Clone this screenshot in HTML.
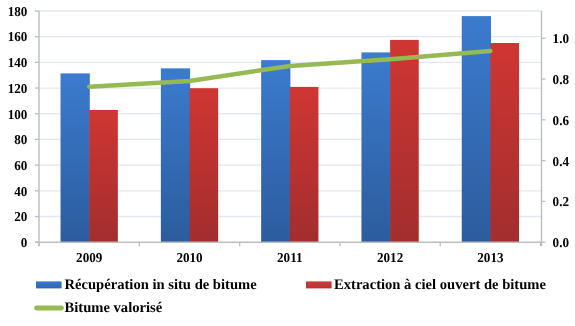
<!DOCTYPE html>
<html><head><meta charset="utf-8"><style>
html,body{margin:0;padding:0;background:#fff;}
svg{display:block;will-change:transform;}
.t{font-family:"Liberation Serif",serif;font-weight:bold;font-size:13.6px;text-rendering:geometricPrecision;fill:#000;}
.l{font-family:"Liberation Serif",serif;font-weight:bold;font-size:14.6px;text-rendering:geometricPrecision;fill:#000;}
</style></head><body>
<svg width="575" height="326" viewBox="0 0 575 326">
<defs>
<linearGradient id="gb" x1="0" y1="0" x2="0" y2="1"><stop offset="0" stop-color="#3B7BCE"/><stop offset="1" stop-color="#2C5C9E"/></linearGradient>
<linearGradient id="gr" x1="0" y1="0" x2="0" y2="1"><stop offset="0" stop-color="#CF3633"/><stop offset="1" stop-color="#A22E2E"/></linearGradient>
<linearGradient id="lb" x1="0" y1="0" x2="0" y2="1"><stop offset="0" stop-color="#3A78CC"/><stop offset="1" stop-color="#2E66B0"/></linearGradient>
<linearGradient id="lr" x1="0" y1="0" x2="0" y2="1"><stop offset="0" stop-color="#CC3A36"/><stop offset="1" stop-color="#B83434"/></linearGradient>
</defs>
<rect width="575" height="326" fill="#fff"/>
<line x1="39.0" x2="541.5" y1="11.00" y2="11.00" stroke="#E3E7F1" stroke-width="1.3"/>
<line x1="39.0" x2="541.5" y1="36.69" y2="36.69" stroke="#E3E7F1" stroke-width="1.3"/>
<line x1="39.0" x2="541.5" y1="62.38" y2="62.38" stroke="#E3E7F1" stroke-width="1.3"/>
<line x1="39.0" x2="541.5" y1="88.07" y2="88.07" stroke="#E3E7F1" stroke-width="1.3"/>
<line x1="39.0" x2="541.5" y1="113.76" y2="113.76" stroke="#E3E7F1" stroke-width="1.3"/>
<line x1="39.0" x2="541.5" y1="139.44" y2="139.44" stroke="#E3E7F1" stroke-width="1.3"/>
<line x1="39.0" x2="541.5" y1="165.13" y2="165.13" stroke="#E3E7F1" stroke-width="1.3"/>
<line x1="39.0" x2="541.5" y1="190.82" y2="190.82" stroke="#E3E7F1" stroke-width="1.3"/>
<line x1="39.0" x2="541.5" y1="216.51" y2="216.51" stroke="#E3E7F1" stroke-width="1.3"/>
<rect x="60.55" y="73.4" width="29.25" height="168.80" fill="url(#gb)"/>
<rect x="89.20" y="110" width="28.65" height="132.20" fill="url(#gr)"/>
<rect x="160.85" y="68.35" width="29.25" height="173.85" fill="url(#gb)"/>
<rect x="189.50" y="88.2" width="28.65" height="154.00" fill="url(#gr)"/>
<rect x="261.15" y="60.1" width="29.25" height="182.10" fill="url(#gb)"/>
<rect x="289.80" y="86.9" width="28.65" height="155.30" fill="url(#gr)"/>
<rect x="361.45" y="52.4" width="29.25" height="189.80" fill="url(#gb)"/>
<rect x="390.10" y="39.9" width="28.65" height="202.30" fill="url(#gr)"/>
<rect x="461.75" y="16.1" width="29.25" height="226.10" fill="url(#gb)"/>
<rect x="490.40" y="43" width="28.65" height="199.20" fill="url(#gr)"/>
<line x1="39.0" x2="39.0" y1="11.0" y2="246.2" stroke="#BDBDBD" stroke-width="1.4"/>
<line x1="541.5" x2="541.5" y1="11.0" y2="246.2" stroke="#BDBDBD" stroke-width="1.4"/>
<line x1="35.0" x2="541.5" y1="242.2" y2="242.2" stroke="#BDBDBD" stroke-width="1.4"/>
<line x1="35.0" x2="39.0" y1="11.00" y2="11.00" stroke="#BDBDBD" stroke-width="1.3"/>
<text transform="translate(27.4,15.80) scale(0.965,1)" text-anchor="end" class="t">180</text>
<line x1="35.0" x2="39.0" y1="36.69" y2="36.69" stroke="#BDBDBD" stroke-width="1.3"/>
<text transform="translate(27.4,41.49) scale(0.965,1)" text-anchor="end" class="t">160</text>
<line x1="35.0" x2="39.0" y1="62.38" y2="62.38" stroke="#BDBDBD" stroke-width="1.3"/>
<text transform="translate(27.4,67.18) scale(0.965,1)" text-anchor="end" class="t">140</text>
<line x1="35.0" x2="39.0" y1="88.07" y2="88.07" stroke="#BDBDBD" stroke-width="1.3"/>
<text transform="translate(27.4,92.87) scale(0.965,1)" text-anchor="end" class="t">120</text>
<line x1="35.0" x2="39.0" y1="113.76" y2="113.76" stroke="#BDBDBD" stroke-width="1.3"/>
<text transform="translate(27.4,118.56) scale(0.965,1)" text-anchor="end" class="t">100</text>
<line x1="35.0" x2="39.0" y1="139.44" y2="139.44" stroke="#BDBDBD" stroke-width="1.3"/>
<text transform="translate(27.4,144.24) scale(0.965,1)" text-anchor="end" class="t">80</text>
<line x1="35.0" x2="39.0" y1="165.13" y2="165.13" stroke="#BDBDBD" stroke-width="1.3"/>
<text transform="translate(27.4,169.93) scale(0.965,1)" text-anchor="end" class="t">60</text>
<line x1="35.0" x2="39.0" y1="190.82" y2="190.82" stroke="#BDBDBD" stroke-width="1.3"/>
<text transform="translate(27.4,195.62) scale(0.965,1)" text-anchor="end" class="t">40</text>
<line x1="35.0" x2="39.0" y1="216.51" y2="216.51" stroke="#BDBDBD" stroke-width="1.3"/>
<text transform="translate(27.4,221.31) scale(0.965,1)" text-anchor="end" class="t">20</text>
<line x1="35.0" x2="39.0" y1="242.20" y2="242.20" stroke="#BDBDBD" stroke-width="1.3"/>
<text transform="translate(27.4,247.00) scale(0.965,1)" text-anchor="end" class="t">0</text>
<line x1="39.05" x2="39.05" y1="242.2" y2="246.2" stroke="#BDBDBD" stroke-width="1.3"/>
<line x1="139.35" x2="139.35" y1="242.2" y2="246.2" stroke="#BDBDBD" stroke-width="1.3"/>
<line x1="239.65" x2="239.65" y1="242.2" y2="246.2" stroke="#BDBDBD" stroke-width="1.3"/>
<line x1="339.95" x2="339.95" y1="242.2" y2="246.2" stroke="#BDBDBD" stroke-width="1.3"/>
<line x1="440.25" x2="440.25" y1="242.2" y2="246.2" stroke="#BDBDBD" stroke-width="1.3"/>
<line x1="540.55" x2="540.55" y1="242.2" y2="246.2" stroke="#BDBDBD" stroke-width="1.3"/>
<line x1="541.5" x2="545.5" y1="242.20" y2="242.20" stroke="#BDBDBD" stroke-width="1.3"/>
<text transform="translate(552.6,247.20) scale(0.965,1)" class="t">0.0</text>
<line x1="541.5" x2="545.5" y1="201.42" y2="201.42" stroke="#BDBDBD" stroke-width="1.3"/>
<text transform="translate(552.6,206.42) scale(0.965,1)" class="t">0.2</text>
<line x1="541.5" x2="545.5" y1="160.64" y2="160.64" stroke="#BDBDBD" stroke-width="1.3"/>
<text transform="translate(552.6,165.64) scale(0.965,1)" class="t">0.4</text>
<line x1="541.5" x2="545.5" y1="119.86" y2="119.86" stroke="#BDBDBD" stroke-width="1.3"/>
<text transform="translate(552.6,124.86) scale(0.965,1)" class="t">0.6</text>
<line x1="541.5" x2="545.5" y1="79.08" y2="79.08" stroke="#BDBDBD" stroke-width="1.3"/>
<text transform="translate(552.6,84.08) scale(0.965,1)" class="t">0.8</text>
<line x1="541.5" x2="545.5" y1="38.30" y2="38.30" stroke="#BDBDBD" stroke-width="1.3"/>
<text transform="translate(552.6,43.30) scale(0.965,1)" class="t">1.0</text>
<text transform="translate(89.20,262.2) scale(0.965,1)" text-anchor="middle" class="t">2009</text>
<text transform="translate(189.50,262.2) scale(0.965,1)" text-anchor="middle" class="t">2010</text>
<text transform="translate(289.80,262.2) scale(0.965,1)" text-anchor="middle" class="t">2011</text>
<text transform="translate(390.10,262.2) scale(0.965,1)" text-anchor="middle" class="t">2012</text>
<text transform="translate(490.40,262.2) scale(0.965,1)" text-anchor="middle" class="t">2013</text>
<polyline points="89.20,86.7 189.50,80.9 289.80,65.9 390.10,59.3 490.40,50.9" fill="none" stroke="#95BA52" stroke-width="4.5" stroke-linecap="round" stroke-linejoin="round"/>
<rect x="36" y="281.4" width="25.6" height="7" fill="url(#lb)"/>
<text x="64.5" y="288.8" class="l">Récupération in situ de bitume</text>
<rect x="306" y="281.4" width="25.6" height="7" fill="url(#lr)"/>
<text x="334" y="288.8" class="l">Extraction à ciel ouvert de bitume</text>
<line x1="36.5" x2="61.5" y1="308" y2="308" stroke="#95BA52" stroke-width="4.8" stroke-linecap="round"/>
<text x="64.5" y="311.6" class="l">Bitume valorisé</text>
</svg>
</body></html>
